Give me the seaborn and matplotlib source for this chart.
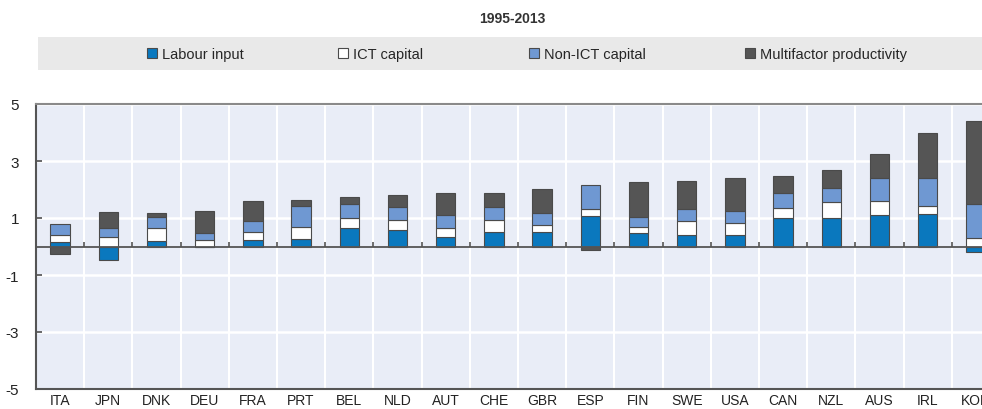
import numpy as np
import pandas as pd
import matplotlib.pyplot as plt
import seaborn as sns
from matplotlib.patches import Patch, Rectangle

# Data (percentage points, 1995-2013)
countries = ['ITA', 'JPN', 'DNK', 'DEU', 'FRA', 'PRT', 'BEL', 'NLD', 'AUT', 'CHE',
             'GBR', 'ESP', 'FIN', 'SWE', 'USA', 'CAN', 'NZL', 'AUS', 'IRL', 'KOR']
labour = [0.17, -0.49, 0.21, -0.02, 0.23, 0.26, 0.64, 0.58, 0.33, 0.52,
          0.50, 1.08, 0.48, 0.40, 0.41, 0.99, 1.00, 1.10, 1.13, -0.19]
ict = [0.24, 0.35, 0.43, 0.23, 0.29, 0.42, 0.37, 0.35, 0.33, 0.41,
       0.26, 0.23, 0.21, 0.49, 0.43, 0.35, 0.55, 0.49, 0.28, 0.30]
non_ict = [0.37, 0.29, 0.41, 0.24, 0.39, 0.74, 0.48, 0.44, 0.44, 0.44,
           0.40, 0.85, 0.33, 0.42, 0.42, 0.52, 0.52, 0.80, 0.99, 1.19]
mfp = [-0.27, 0.58, 0.14, 0.79, 0.69, 0.21, 0.23, 0.43, 0.77, 0.50,
       0.86, -0.12, 1.25, 1.00, 1.13, 0.61, 0.62, 0.84, 1.57, 2.93]

series = ['Labour input', 'ICT capital', 'Non-ICT capital', 'Multifactor productivity']
colors = ['#0a78be', '#ffffff', '#6f98d2', '#555555']
values = [labour, ict, non_ict, mfp]

sns.set_theme(style='white')
plt.rcParams['font.family'] = ['Liberation Sans', 'DejaVu Sans']

fig = plt.figure(figsize=(9.82, 4.10), dpi=100)
ax = fig.add_axes([36 / 982, 20 / 410, 964 / 982, 285 / 410])
ax.set_facecolor('#e9edf7')

# stack positives upward and negatives downward
pos_base = np.zeros(len(countries))
neg_base = np.zeros(len(countries))
for name, vals, col in zip(series, values, colors):
    vals = np.array(vals)
    bottom = np.where(vals >= 0, pos_base, neg_base)
    df = pd.DataFrame({'country': countries, 'value': vals})
    sns.barplot(data=df, x='country', y='value', order=countries, bottom=bottom,
                color=col, saturation=1, width=0.4, edgecolor='#4a4a4a',
                linewidth=0.8, errorbar=None, ax=ax, zorder=3)
    pos_base = pos_base + np.where(vals >= 0, vals, 0)
    neg_base = neg_base + np.where(vals < 0, vals, 0)

n = len(countries)
ax.set_xlim(-0.5, n - 0.5)
ax.set_ylim(-5, 5)
ax.set_yticks([-5, -3, -1, 1, 3, 5])
ax.set_yticklabels(['-5', '-3', '-1', '1', '3', '5'], fontsize=11, color='#222222')
ax.set_xticks(np.arange(n))
ax.set_xticklabels(countries, fontsize=10, color='#222222')
ax.set_xticks(np.arange(n) + 0.5, minor=True)
ax.tick_params(axis='x', which='both', length=0, pad=3)
ax.tick_params(axis='y', direction='in', length=4, color='#555555', left=True, pad=12)
ax.set_xlabel('')
ax.set_ylabel('')

ax.grid(True, axis='y', color='white', linewidth=1.8, zorder=0)
ax.grid(True, axis='x', which='minor', color='white', linewidth=1.5, zorder=0)
ax.set_axisbelow(True)

ax.axhline(0, color='#555555', linewidth=1.3, zorder=4)
ax.vlines(np.arange(n) + 0.5, 0, 0.15, color='#555555', linewidth=1.2, zorder=4)

for side in ['left', 'bottom']:
    ax.spines[side].set_color('#555555')
    ax.spines[side].set_linewidth(1.5)
ax.spines['top'].set_color('#8a8a8a')
ax.spines['top'].set_linewidth(1.5)
ax.spines['right'].set_visible(False)

# title and legend band
fig.text(512 / 982, 1 - 19 / 410, '1995-2013', ha='center', va='center',
         fontsize=10, fontweight='bold', color='#333333')
fig.patches.append(Rectangle((38 / 982, 1 - 71 / 410), 1, 33 / 410,
                             transform=fig.transFigure, facecolor='#e9e9e9',
                             edgecolor='none', zorder=0))
# one legend per entry so each sits where the reference has it
legend_x = [147, 338, 529, 745]
for lx, name, col in zip(legend_x, series, colors):
    h = Patch(facecolor=col, edgecolor='#4a4a4a', linewidth=0.8)
    fig.legend([h], [name], loc='center left', bbox_to_anchor=(lx / 982, 1 - 55 / 410),
               frameon=False, fontsize=10.5, handlelength=0.7, handleheight=0.7,
               handletextpad=0.3, borderpad=0, borderaxespad=0)

fig.savefig('out.png', dpi=100)
